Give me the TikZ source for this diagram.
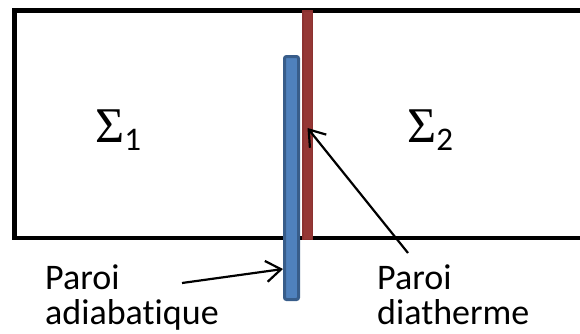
\documentclass[tikz,border=0pt]{standalone}
\usepackage{fontspec}
\setmainfont{Carlito}[Ligatures=NoCommon]
\newfontfamily\sigfont{Liberation Serif}
\usetikzlibrary{arrows.meta}
\definecolor{wallblue}{HTML}{4F81BD}
\definecolor{wallblueline}{HTML}{385D8A}
\definecolor{wallred}{HTML}{953735}
\definecolor{wallredline}{HTML}{8C3130}

\begin{document}
\begin{tikzpicture}[x=1pt, y=-1pt, >={Straight Barb[length=15pt,width=21pt]},
  every node/.style={font=\fontsize{36}{35}\selectfont},
  caption/.style={align=left, anchor=base west, inner sep=0pt},
  sigma/.style={font=\fontsize{50}{60}\sigfont, anchor=base west, inner sep=0pt},
  redwall/.style={draw=wallredline, fill=wallred, line width=1.5pt, minimum width=9.5pt, minimum height=228.5pt, inner sep=0pt},
  bluewall/.style={draw=wallblueline, fill=wallblue, line width=3pt, rounded corners=2pt, minimum width=14pt, minimum height=243pt, inner sep=0pt},
  pointer/.style={->, line width=2.2pt}]
  \useasboundingbox (0,0) rectangle (580,333);
  % enceinte
  \draw[line width=4.5pt] (580,10.5) -| (14.5,238) -- (580,238);
  \node[sigma] (sys1) at (95,142) {Σ\raisebox{-8pt}{\fontsize{33}{40}\rmfamily 1}};
  \node[sigma] (sys2) at (407,142) {Σ\raisebox{-8pt}{\fontsize{33}{40}\rmfamily 2}};
  % parois
  \node[redwall] (diath) at (307.5,125) {};
  \node[bluewall] (adiab) at (291.5,178) {};
  \node[caption] (txtadiab) at (45,324) {Paroi\\adiabatique};
  \node[caption] (txtdiath) at (377,324) {Paroi\\diatherme};
  \coordinate (tailadiab) at (182,283);
  \coordinate (taildiath) at (408,253);
  \draw[pointer] (tailadiab) -- ([yshift=-91pt]adiab.west);
  \draw[pointer] (taildiath) -- ([yshift=-3pt]diath.center);
\end{tikzpicture}
\end{document}
